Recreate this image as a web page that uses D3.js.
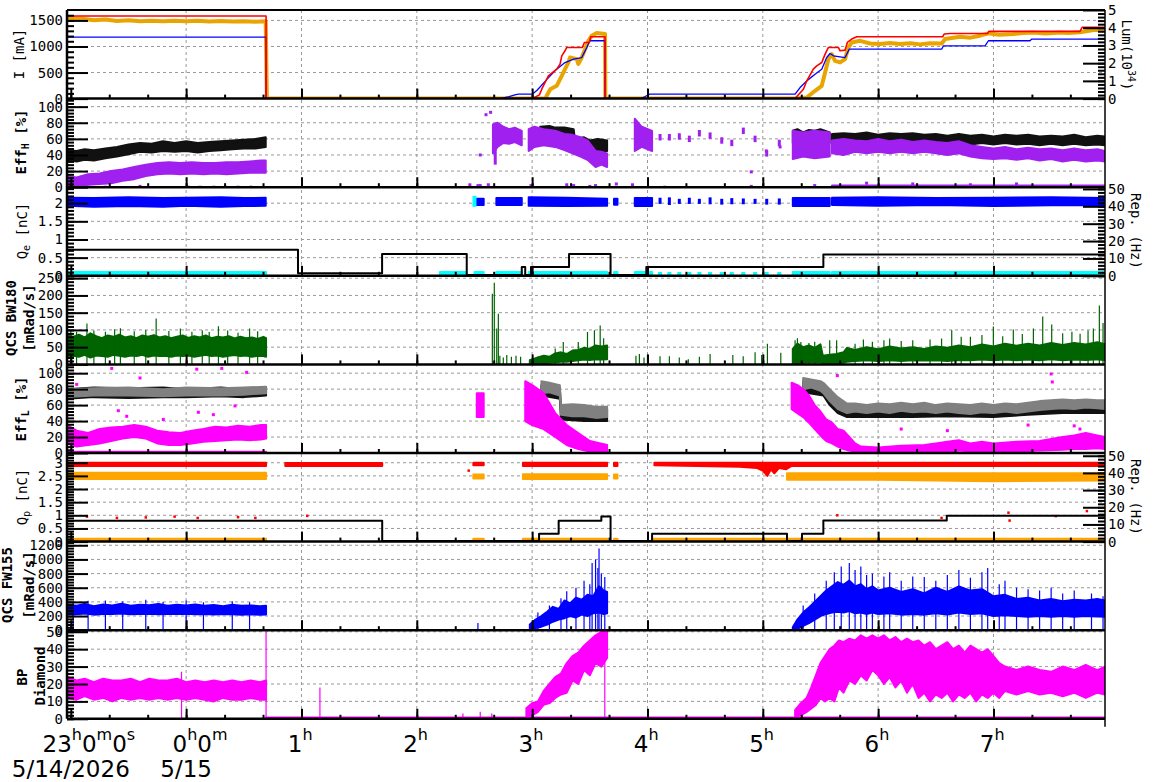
<!DOCTYPE html>
<html>
<head>
<meta charset="utf-8">
<script src="https://cdn.jsdelivr.net/npm/d3@7"></script>
<style>
  body { margin: 0; background: #fff; }
  svg { display: block; }
  .tick text { font-family: "DejaVu Sans Mono", monospace; font-size: 14px; fill: #000; }
</style>
</head>
<body>
<svg id="chart" width="1172" height="782"></svg>
<script>
// ---- time axis (hours relative to 0h of 5/15) ----
const timeDomain = [-1.033, 7.967];
const hourTicks = [-1, 0, 1, 2, 3, 4, 5, 6, 7];
const hourLabels = ["23h0m0s", "0h0m", "1h", "2h", "3h", "4h", "5h", "6h", "7h"];
const dateTicks = [-1, 0];
const dateLabels = ["5/14/2026", "5/15"];

// ---- y tick values ----
const currentTicks = [0, 500, 1000, 1500];
const lumTicks = [0, 1, 2, 3, 4, 5];
const effTicks = [0, 20, 40, 60, 80, 100];
const chargeTicksE = [0, 0.5, 1, 1.5, 2];
const chargeTicksP = [0, 0.5, 1, 1.5, 2, 2.5, 3];
const repTicks = [0, 10, 20, 30, 40, 50];
const bw180Ticks = [0, 50, 100, 150, 200, 250];
const fw155Ticks = [0, 200, 400, 600, 800, 1000, 1200];
const bpTicks = [0, 10, 20, 30, 40, 50];

// ---- panel 1: beam currents [mA] and luminosity [1e34] ----
const herCurrent = [[-1.033,1585],[0.693,1585],[0.693,0],[3.0,0],[3.063,71],[3.083,180],[3.141,437],[3.213,565],[3.242,662],[3.257,821],[3.285,917],[3.3,981],[3.435,981],[3.453,1077],[3.496,1077],[3.508,1186],[3.632,1186],[3.632,0],[5.279,0],[5.352,180],[5.381,340],[5.438,565],[5.468,629],[5.511,692],[5.54,854],[5.569,981],[5.655,981],[5.67,917],[5.713,930],[5.733,1077],[5.771,1142],[5.815,1186],[6.56,1186],[6.572,1238],[6.624,1250],[6.95,1250],[6.96,1290],[7.75,1290],[7.77,1370],[7.967,1370]];
const lerCurrent = [[-1.033,1180],[0.693,1180],[0.693,0],[2.72,0],[2.75,15],[2.8,40],[2.85,71],[2.88,85],[3.0,85],[3.043,161],[3.13,373],[3.213,565],[3.285,692],[3.36,758],[3.43,788],[3.445,854],[3.474,981],[3.5,1110],[3.632,1110],[3.632,0],[3.94,0],[3.98,40],[4.02,85],[5.28,85],[5.323,212],[5.381,340],[5.453,469],[5.511,565],[5.554,788],[5.583,865],[5.612,821],[5.713,788],[5.75,950],[6.552,950],[6.566,1013],[6.927,1013],[6.956,1110],[7.317,1110],[7.332,1142],[7.967,1142]];
const luminosity = [[-1.033,4.55],[-0.9,4.5],[-0.8,4.42],[-0.7,4.46],[-0.6,4.38],[-0.5,4.42],[-0.4,4.36],[-0.3,4.4],[-0.2,4.37],[-0.1,4.4],[0,4.36],[0.1,4.39],[0.2,4.35],[0.3,4.38],[0.4,4.35],[0.5,4.37],[0.6,4.34],[0.69,4.36],[0.70,0],[3.113,0],[3.157,0.53],[3.213,0.72],[3.257,1.28],[3.285,1.66],[3.314,2.04],[3.329,2.32],[3.387,2.23],[3.4,1.95],[3.43,2.32],[3.459,2.79],[3.488,3.26],[3.517,3.55],[3.56,3.7],[3.632,3.64],[3.635,0],[5.279,0],[5.381,0.06],[5.453,0.44],[5.511,0.72],[5.54,1.47],[5.569,2.23],[5.598,2.51],[5.626,2.13],[5.67,2.04],[5.713,2.23],[5.742,2.88],[5.771,3.17],[5.843,3.26],[5.93,3.11],[6.017,3.08],[6.1,3.14],[6.19,3.08],[6.28,3.12],[6.363,3.06],[6.45,3.12],[6.552,3.11],[6.58,3.36],[6.71,3.49],[6.8,3.44],[6.883,3.55],[6.956,3.68],[7.05,3.6],[7.172,3.64],[7.25,3.7],[7.346,3.73],[7.45,3.68],[7.577,3.73],[7.65,3.7],[7.751,3.74],[7.866,3.87],[7.967,3.87]];

// ---- panel 2: Eff_H [%] bands [t, low, high] ----
const effHBlack = [
  [[-1.033,34,46],[-0.95,32,45],[-0.88,34,47],[-0.8,33,46],[-0.7,36,48],[-0.6,38,50],[-0.5,41,53],[-0.4,44,55],[-0.3,43,54],[-0.2,45,57],[-0.1,44,55],[0,45,57],[0.1,43,55],[0.2,45,56],[0.3,46,57],[0.4,47,58],[0.5,48,59],[0.6,48,60],[0.69,50,62]],
  [[3.07,66,75],[3.15,65,76],[3.2,66,74],[3.28,64,74],[3.36,64,72],[3.37,50,60],[3.45,48,62],[3.5,46,58],[3.57,44,60],[3.65,45,58]],
  [[5.26,55,70],[5.3,58,72],[5.35,54,68],[5.4,57,71],[5.45,55,70],[5.5,58,72],[5.58,55,68]],
  [[5.6,55,66],[5.7,57,67],[5.8,55,66],[5.9,57,68],[6.0,55,65],[6.1,57,67],[6.2,55,66],[6.3,56,67],[6.4,54,65],[6.5,56,66],[6.6,54,64],[6.7,55,66],[6.8,53,64],[6.9,55,65],[7.0,53,63],[7.1,55,65],[7.2,53,64],[7.3,54,65],[7.4,52,63],[7.5,54,64],[7.6,52,63],[7.7,54,65],[7.8,52,62],[7.9,53,64],[7.967,52,63]]
];
const effHPurple = [
  [[-1.033,2,14],[-0.95,1,12],[-0.85,3,16],[-0.75,4,17],[-0.65,5,20],[-0.55,8,22],[-0.45,10,25],[-0.35,14,28],[-0.25,16,30],[-0.15,17,31],[-0.05,16,30],[0.05,17,31],[0.15,16,30],[0.25,17,30],[0.35,16,31],[0.45,17,31],[0.55,18,32],[0.65,18,33],[0.69,18,33]],
  [[2.66,42,78],[2.7,50,80],[2.75,55,75],[2.8,54,72],[2.85,56,74],[2.91,52,70]],
  [[2.97,45,72],[3.02,50,75],[3.1,52,72],[3.2,50,70],[3.28,46,66],[3.35,42,65],[3.42,38,62],[3.48,34,58],[3.55,25,45],[3.6,28,44],[3.65,25,42]],
  [[3.89,45,85],[3.95,50,75],[4.04,45,70]],
  [[5.26,35,70],[5.35,38,68],[5.45,36,70],[5.58,38,68]],
  [[5.6,42,58],[5.7,40,60],[5.8,44,58],[5.9,42,57],[6.0,44,60],[6.1,42,57],[6.2,44,59],[6.3,42,56],[6.4,44,58],[6.5,42,56],[6.6,40,55],[6.7,42,57],[6.8,38,52],[6.9,36,50],[7.0,35,48],[7.1,36,50],[7.2,34,47],[7.3,36,49],[7.4,33,47],[7.5,35,48],[7.6,32,46],[7.7,34,48],[7.8,32,46],[7.9,33,47],[7.967,32,45]],
  [[5.6,0,2],[7.967,0,2]]
];
const effHPurpleDashes = [[2.68,28,50],[4.109,58,66],[4.19,58,66],[4.276,59,67],[4.363,56,64],[4.45,63,71],[4.543,60,68],[4.644,54,62],[4.731,51,59],[4.831,66,74],[4.933,56,64],[5.034,38,46],[5.143,51,59]];
const effHPurpleDots = [[-0.85,0],[-0.7,0],[-0.4,1],[0.02,0],[0.12,0],[0.24,0],[0.34,0],[0.45,0],[0.56,0],[2.46,3],[2.53,2],[2.55,2],[2.62,3],[2.99,2],[3.3,3],[3.36,2],[3.5,1],[3.55,2],[3.73,4],[3.87,3],[4.15,0],[4.9,1],[5.45,2],[2.6,90],[2.64,93],[2.55,40],[5.03,45],[5.15,50],[4.9,19],[5.9,5],[6.3,4],[6.8,3],[7.2,4]];

// ---- panel 3: Q_e [nC] and repetition [Hz] ----
const qeBlue = [
  [[-1.033,1.93,2.15],[-0.8,1.9,2.14],[-0.5,1.92,2.16],[-0.2,1.9,2.14],[0,1.93,2.15],[0.3,1.9,2.16],[0.5,1.92,2.14],[0.69,1.93,2.15]],
  [[2.52,1.95,2.12],[2.58,1.95,2.12]],
  [[2.69,1.95,2.14],[2.91,1.95,2.14]],
  [[2.97,1.93,2.16],[3.3,1.92,2.15],[3.65,1.93,2.12]],
  [[3.71,1.96,2.12],[3.74,1.96,2.12]],
  [[3.89,1.92,2.14],[4.04,1.92,2.14]],
  [[5.26,1.92,2.14],[5.58,1.92,2.14]],
  [[5.6,1.95,2.15],[6.0,1.93,2.16],[6.5,1.95,2.14],[7.0,1.92,2.15],[7.5,1.94,2.16],[7.967,1.94,2.14]]
];
const qeBlueDashes = [[4.109,1.98,2.15],[4.19,1.95,2.16],[4.276,1.98,2.12],[4.363,1.98,2.15],[4.45,1.98,2.12],[4.543,1.97,2.16],[4.644,1.96,2.12],[4.731,1.97,2.14],[4.831,1.97,2.13],[4.933,1.98,2.12],[5.034,1.96,2.12],[5.143,1.96,2.13]];
const qeCyanBlock = [[2.5,1.9,2.2]];
const repCyan = [
  [[-1.033,0.2,2.2],[0.693,0.2,2.2]],[[2.2,0.2,2.2],[2.43,0.2,2.2]],[[2.5,0.2,2.2],[2.58,0.2,2.2]],[[2.69,0.2,2.2],[2.91,0.2,2.2]],
  [[2.97,0.2,2.2],[3.65,0.2,2.2]],[[3.71,0.2,2.2],[3.74,0.2,2.2]],[[3.89,0.2,2.2],[4.04,0.2,2.2]],
  [[5.26,0.2,2.2],[5.58,0.2,2.2]],[[5.6,0.2,2.2],[7.967,0.2,2.2]]
];
const repCyanDashes = [[4.109,0.2,2.2],[4.19,0.2,2.2],[4.276,0.2,2.2],[4.363,0.2,2.2],[4.45,0.2,2.2],[4.543,0.2,2.2],[4.644,0.2,2.2],[4.731,0.2,2.2],[4.831,0.2,2.2],[4.933,0.2,2.2],[5.034,0.2,2.2],[5.143,0.2,2.2]];
const repE = [[-1.033,15],[0.97,1.5],[1.699,12.5],[2.433,0.5],[2.91,5],[2.94,0.5],[2.99,5],[3.32,12.5],[3.68,0.5],[3.99,5],[5.525,12.2],[7.967,12.2]];

// ---- panel 4: QCS BW180 [mRad/s] ----
const bw180Band = [
  [[-1.033,20,88],[-0.98,25,80],[-0.93,22,86],[-0.88,28,78],[-0.83,20,90],[-0.78,26,82],[-0.73,24,76],[-0.68,22,84],[-0.63,28,80],[-0.58,25,86],[-0.53,22,78],[-0.48,26,82],[-0.43,24,76],[-0.38,28,84],[-0.33,22,80],[-0.28,26,85],[-0.23,24,78],[-0.18,25,82],[-0.13,22,76],[-0.08,26,80],[-0.03,24,84],[0.02,26,77],[0.07,22,82],[0.12,25,78],[0.17,28,84],[0.22,24,76],[0.27,26,80],[0.32,22,78],[0.37,25,82],[0.42,27,75],[0.47,24,80],[0.52,26,76],[0.57,22,78],[0.62,25,74],[0.67,24,80],[0.693,22,76]],
  [[2.98,0,12],[3.05,2,20],[3.1,3,25],[3.15,5,22],[3.2,6,32],[3.25,8,35],[3.3,8,30],[3.35,10,40],[3.4,12,42],[3.45,14,48],[3.5,13,45],[3.55,15,55],[3.6,14,52],[3.65,15,55]],
  [[5.26,3,45],[5.3,5,60],[5.35,4,50],[5.4,6,55],[5.45,5,48],[5.5,6,58],[5.52,3,25],[5.58,3,28],[5.64,3,30],[5.7,5,35],[5.73,8,48],[5.8,10,42],[5.9,12,50],[6.0,10,44],[6.1,12,52],[6.2,10,46],[6.3,12,50],[6.4,11,45],[6.5,12,52],[6.6,10,48],[6.7,13,55],[6.8,12,50],[6.9,14,58],[7.0,12,52],[7.1,14,60],[7.2,12,54],[7.3,14,60],[7.4,12,55],[7.5,15,62],[7.6,12,56],[7.7,14,62],[7.8,13,58],[7.9,15,64],[7.967,12,58]]
];
const bw180Spikes = [[-1.0,100],[-0.95,95],[-0.86,119],[-0.8,98],[-0.7,95],[-0.62,102],[-0.57,105],[-0.45,96],[-0.35,100],[-0.26,133],[-0.15,97],[-0.05,104],[0.05,95],[0.14,99],[0.2,94],[0.28,111],[0.36,98],[0.45,92],[0.55,104],[0.62,96],[2.655,205],[2.672,237],[2.693,104],[2.707,147],[2.72,25],[2.75,20],[2.78,27],[2.82,22],[2.86,25],[2.9,22],[3.05,22],[3.2,46],[3.27,65],[3.4,65],[3.48,94],[3.54,99],[3.59,113],[3.62,76],[3.9,25],[3.93,30],[3.97,20],[4.0,28],[4.109,24],[4.19,24],[4.276,20],[4.354,15],[4.45,22],[4.543,30],[4.74,27],[4.83,24],[4.933,35],[4.99,27],[5.04,60],[5.156,34],[5.28,70],[5.3,76],[5.33,65],[5.4,62],[5.45,66],[5.58,70],[5.64,70],[5.8,60],[5.872,72],[5.95,66],[6.05,70],[6.1,75],[6.2,68],[6.3,70],[6.45,72],[6.55,75],[6.638,99],[6.72,80],[6.8,80],[6.9,85],[6.999,110],[7.08,82],[7.172,101],[7.25,88],[7.346,104],[7.427,139],[7.505,116],[7.6,90],[7.68,95],[7.751,89],[7.82,98],[7.866,104],[7.918,171],[7.95,120]];

// ---- panel 5: Eff_L [%] ----
const effLBlack = [
  [[-1.033,68,80],[-0.8,70,82],[-0.5,69,81],[-0.2,70,82],[0,70,80],[0.3,71,82],[0.5,70,80],[0.693,72,82]],
  [[3.08,72,85],[3.24,68,82],[3.25,42,58],[3.45,40,55],[3.65,40,55]],
  [[5.35,76,90],[5.525,72,86],[5.58,60,75],[5.65,50,65],[5.73,45,57],[6.0,45,57],[6.3,45,56],[6.6,46,57],[7.0,45,56],[7.3,48,58],[7.6,50,60],[7.967,50,62]]
];
const effLGray = [
  [[-1.033,70,80],[-0.8,72,81],[-0.5,72,82],[-0.2,71,80],[0,72,82],[0.3,72,81],[0.5,73,82],[0.693,75,83]],
  [[3.08,75,90],[3.15,76,88],[3.24,72,85],[3.25,48,60],[3.35,46,61],[3.45,46,60],[3.55,44,58],[3.65,45,58]],
  [[5.35,80,94],[5.42,82,92],[5.5,78,90],[5.525,75,88],[5.58,65,80],[5.65,55,70],[5.73,50,62],[5.8,52,62],[5.9,50,60],[6.0,52,62],[6.1,50,61],[6.2,53,63],[6.3,51,61],[6.4,52,63],[6.5,50,60],[6.6,52,62],[6.7,50,61],[6.8,49,60],[6.9,51,62],[7.0,50,60],[7.1,52,62],[7.2,50,61],[7.3,52,63],[7.4,54,65],[7.5,55,66],[7.6,56,67],[7.7,55,66],[7.8,57,67],[7.9,56,66],[7.967,55,66]]
];
const effLMagenta = [
  [[-1.033,12,35],[-0.95,8,28],[-0.85,10,25],[-0.75,12,30],[-0.65,15,32],[-0.55,18,33],[-0.45,20,35],[-0.35,18,33],[-0.25,12,28],[-0.15,10,26],[-0.05,10,25],[0.05,12,28],[0.15,14,30],[0.25,15,33],[0.35,16,32],[0.45,17,34],[0.55,16,33],[0.65,17,35],[0.693,18,35]],
  [[-1.033,0,1.5],[0.693,0,1.5]],
  [[2.52,45,75],[2.58,45,75]],
  [[2.94,40,90],[3.0,35,85],[3.1,30,75],[3.2,20,50],[3.3,10,35],[3.4,5,25],[3.5,2,15],[3.65,1,10]],
  [[5.25,55,88],[5.3,50,85],[5.35,45,80],[5.4,38,72],[5.45,30,60],[5.5,22,52],[5.55,15,42],[5.6,12,38],[5.65,8,30],[5.7,5,28],[5.75,3,20],[5.8,2,12],[5.85,1,8],[6.0,1,7],[6.2,1,9],[6.4,2,10],[6.5,1,12],[6.6,2,14],[6.7,3,16],[6.8,2,12],[6.9,2,14],[7.0,2,12],[7.2,2,14],[7.4,3,15],[7.6,4,20],[7.7,5,22],[7.8,5,25],[7.9,6,22],[7.967,5,20]]
];
const effLMagentaDots = [[-0.645,106],[-0.4,94],[0.092,105],[0.309,106],[0.525,101],[-0.949,86],[0.424,59],[-0.588,53],[-0.515,46],[0.106,51],[-0.198,42],[0.236,48],[5.646,97],[7.5,99],[7.51,89],[6.2,30],[6.6,28],[7.3,35],[7.7,34],[7.75,30]];

// ---- panel 6: Q_p [nC] and repetition [Hz] ----
const qpRed = [
  [[-1.033,2.88,3.0],[0.693,2.88,3.0]],
  [[0.86,2.88,2.99],[1.70,2.88,2.99]],
  [[2.49,2.9,3.0],[2.58,2.9,3.0]],
  [[2.92,2.88,3.0],[3.65,2.88,3.0]],
  [[3.71,2.88,3.0],[3.74,2.88,3.0]],
  [[4.06,2.9,3.0],[4.8,2.85,3.0],[4.95,2.8,3.0],[5.0,2.7,3.0],[5.04,2.5,3.0],[5.07,2.75,3.0],[5.1,2.6,3.0],[5.14,2.8,3.0],[5.2,2.75,3.0],[5.25,2.88,3.0],[7.967,2.88,3.0]]
];
const qpOrange = [
  [[-1.033,2.38,2.62],[0.693,2.38,2.62]],
  [[2.49,2.4,2.55],[2.58,2.4,2.55]],
  [[2.92,2.38,2.56],[3.65,2.38,2.56]],
  [[3.71,2.4,2.55],[3.74,2.4,2.55]],
  [[5.21,2.35,2.6],[6.0,2.35,2.6],[7.0,2.3,2.6],[7.967,2.32,2.6]]
];
const qpRedDots = [[-0.86,0.95],[-0.6,0.9],[-0.35,0.92],[-0.1,0.95],[0.1,0.9],[0.45,0.93],[0.6,0.9],[1.05,0.98],[5.646,1.0],[6.55,0.9],[7.13,1.1],[7.14,0.8],[7.54,0.97],[7.81,1.16],[2.45,2.7]];
const repOrange = [
  [[-1.033,0.2,1.6],[0.693,0.2,1.6]],[[2.49,0.2,1.6],[2.58,0.2,1.6]],[[2.92,0.2,1.6],[3.65,0.2,1.6]],
  [[3.71,0.2,1.6],[3.74,0.2,1.6]],[[4.04,0.2,1.6],[7.967,0.2,1.6]]
];
const repP = [[-1.033,12.2],[1.70,0.3],[3.06,4.6],[3.23,12.2],[3.6,14.6],[3.68,0.3],[4.04,4.6],[5.21,0.3],[5.34,4.6],[5.525,12.3],[6.595,15],[7.967,15]];

// ---- panel 7: QCS FW155 [mRad/s] ----
const fw155Band = [
  [[-1.033,230,360],[-0.95,225,345],[-0.88,235,370],[-0.8,220,340],[-0.72,230,365],[-0.64,228,350],[-0.56,235,375],[-0.48,225,345],[-0.4,230,360],[-0.32,232,352],[-0.24,226,370],[-0.16,230,345],[-0.08,228,360],[0,232,350],[0.08,226,365],[0.16,230,345],[0.24,222,355],[0.32,228,340],[0.4,225,360],[0.48,220,345],[0.56,225,350],[0.64,218,340],[0.693,222,345]],
  [[2.98,10,80],[3.03,30,150],[3.08,50,200],[3.13,80,260],[3.18,120,330],[3.23,150,300],[3.28,170,420],[3.33,200,380],[3.38,180,460],[3.43,220,430],[3.48,200,500],[3.53,240,480],[3.58,250,620],[3.62,230,560],[3.65,240,540]],
  [[5.26,0,40],[5.3,20,150],[5.35,60,250],[5.4,100,320],[5.45,150,400],[5.5,200,480],[5.55,230,560],[5.6,250,620],[5.65,260,680],[5.7,250,640],[5.75,270,700],[5.8,240,620],[5.85,250,650],[5.9,230,580],[5.95,250,620],[6.0,230,560],[6.1,240,600],[6.2,220,540],[6.3,230,580],[6.4,220,520],[6.5,240,600],[6.6,220,540],[6.7,250,620],[6.8,230,560],[6.9,240,580],[7.0,200,480],[7.1,210,500],[7.2,200,440],[7.3,190,460],[7.4,200,420],[7.5,190,440],[7.6,200,410],[7.7,190,430],[7.8,200,420],[7.9,195,440],[7.967,190,420]]
];
const fw155Spikes = [[-0.98,400],[-0.85,415],[-0.7,420],[-0.55,405],[-0.35,430],[-0.2,400],[0,420],[0.15,395],[0.4,410],[0.55,395],[2.53,100],[3.05,250],[3.15,350],[3.25,450],[3.3,550],[3.38,600],[3.45,700],[3.5,650],[3.52,950],[3.55,1000],[3.57,880],[3.58,1156],[3.6,800],[3.63,750],[5.35,350],[5.45,520],[5.55,700],[5.62,820],[5.68,900],[5.75,950],[5.8,850],[5.85,900],[5.9,780],[5.95,800],[6.05,760],[6.1,820],[6.2,700],[6.3,760],[6.4,750],[6.5,700],[6.6,780],[6.7,850],[6.8,740],[6.9,820],[6.95,880],[7.05,650],[7.1,700],[7.2,600],[7.3,580],[7.4,560],[7.5,600],[7.6,520],[7.7,560],[7.85,520],[7.95,480]];

// ---- panel 8: BP Diamond ----
const bpBand = [
  [[-1.033,12,24],[-0.95,11,22],[-0.88,13,23],[-0.8,11,21],[-0.72,12,23],[-0.64,10,22],[-0.56,12,22],[-0.48,11,23],[-0.4,12,21],[-0.32,11,23],[-0.24,12,22],[-0.16,11,22],[-0.08,12,23],[0,11,21],[0.08,12,22],[0.16,11,21],[0.24,10,22],[0.32,12,21],[0.4,11,22],[0.48,11,21],[0.56,12,22],[0.64,11,21],[0.693,11,22]],
  [[0.693,0,0.8],[7.967,0,0.8]],
  [[2.95,1,6],[3.0,2,9],[3.05,4,10],[3.1,8,16],[3.15,9,20],[3.2,12,24],[3.25,14,26],[3.3,15,32],[3.35,22,36],[3.4,20,38],[3.45,28,42],[3.5,25,45],[3.55,32,48],[3.6,30,50],[3.65,35,50]],
  [[5.28,1,5],[5.33,2,9],[5.38,4,12],[5.42,6,18],[5.46,8,25],[5.5,12,32],[5.54,10,36],[5.58,12,40],[5.62,10,42],[5.66,18,45],[5.7,15,44],[5.75,22,46],[5.8,20,45],[5.85,25,48],[5.9,22,46],[5.95,28,48],[6.0,25,46],[6.05,20,48],[6.1,24,45],[6.15,18,47],[6.2,22,44],[6.25,15,46],[6.3,20,44],[6.35,12,45],[6.4,15,42],[6.45,10,44],[6.5,14,40],[6.55,12,42],[6.6,15,44],[6.65,10,40],[6.7,14,42],[6.75,12,38],[6.8,15,42],[6.85,10,40],[6.9,14,38],[6.95,12,40],[7.0,15,36],[7.05,12,32],[7.1,16,30],[7.2,14,28],[7.3,16,30],[7.4,14,28],[7.5,15,27],[7.6,13,30],[7.7,15,28],[7.8,12,31],[7.9,15,28],[7.967,14,30]]
];
const bpSpikes = [[-0.04,27],[0.693,50],[1.16,18],[2.4,3],[2.55,4],[2.65,3],[3.63,50]];

// ================= drawing =================
const svg = d3.select("#chart");
const L = 67, R = 1105, TOP = 10, PH = 88.6, NP = 8;
const BOTTOM = TOP + NP * PH;
const x = d3.scaleLinear().domain(timeDomain).range([L, R]);
const defs = svg.append("defs");
const gridLayer = svg.append("g");
const dataLayer = svg.append("g");
const axisLayer = svg.append("g");

function makePanel(i, max, ticks, minorStep, right) {
  const top = TOP + i * PH, bot = top + PH;
  const y = d3.scaleLinear().domain([0, max]).range([bot, top]);
  defs.append("clipPath").attr("id", "clip" + i)
    .append("rect").attr("x", L).attr("y", top).attr("width", R - L).attr("height", PH);
  const data = dataLayer.append("g").attr("clip-path", `url(#clip${i})`);
  // horizontal grid
  gridLayer.selectAll(null).data(ticks.filter(t => t > 0)).enter().append("line")
    .attr("x1", L).attr("x2", R).attr("y1", d => y(d)).attr("y2", d => y(d))
    .attr("stroke", "#999").attr("stroke-dasharray", "3,3");
  const fmt = d => String(+d.toFixed(2));
  const ax = axisLayer.append("g").attr("transform", `translate(${L},0)`);
  ax.call(d3.axisLeft(y).tickValues(d3.range(0, max, minorStep)).tickSize(-7).tickFormat(""));
  ax.append("g").call(d3.axisLeft(y).tickValues(ticks).tickSize(-21).tickPadding(4).tickFormat(fmt));
  ax.selectAll(".domain").remove();
  ax.selectAll(".tick line").attr("stroke", "#000").attr("stroke-width", 2);
  let yr = null;
  if (right) {
    yr = d3.scaleLinear().domain([0, right.max]).range([bot, top]);
    const ar = axisLayer.append("g").attr("transform", `translate(${R},0)`);
    ar.call(d3.axisRight(yr).tickValues(d3.range(0, right.max, right.minor)).tickSize(-7).tickFormat(""));
    ar.append("g").call(d3.axisRight(yr).tickValues(right.ticks).tickSize(-22).tickPadding(3).tickFormat(fmt));
    ar.selectAll(".domain").remove();
    ar.selectAll(".tick line").attr("stroke", "#000").attr("stroke-width", 2);
  }
  // time ticks on the bottom edge
  const tx = axisLayer.append("g").attr("transform", `translate(0,${bot})`);
  tx.call(d3.axisBottom(x).tickValues(d3.range(-1, 8, 1 / 3)).tickSize(-4).tickFormat(""));
  tx.append("g").call(d3.axisBottom(x).tickValues(hourTicks).tickSize(-10).tickFormat(""));
  tx.selectAll(".domain").remove();
  tx.selectAll(".tick line").attr("stroke", "#000").attr("stroke-width", 2);
  axisLayer.append("line").attr("x1", L).attr("x2", R).attr("y1", bot).attr("y2", bot)
    .attr("stroke", "#000").attr("stroke-width", 2.5);
  return { data, y, yr, top, bot };
}

// vertical grid
gridLayer.selectAll(null).data(hourTicks.filter(h => h >= 0)).enter().append("line")
  .attr("x1", d => x(d)).attr("x2", d => x(d)).attr("y1", TOP).attr("y2", BOTTOM)
  .attr("stroke", "#999").attr("stroke-dasharray", "3,3");

const P = [
  makePanel(0, 1700, currentTicks, 100, { max: 5, ticks: lumTicks, minor: 0.2 }),
  makePanel(1, 110, effTicks, 4),
  makePanel(2, 2.44, chargeTicksE, 0.1, { max: 51, ticks: repTicks, minor: 2 }),
  makePanel(3, 257, bw180Ticks, 10),
  makePanel(4, 111, effTicks, 4),
  makePanel(5, 3.37, chargeTicksP, 0.1, { max: 51.6, ticks: repTicks, minor: 2 }),
  makePanel(6, 1252, fw155Ticks, 40),
  makePanel(7, 50.9, bpTicks, 2)
];

function band(p, segs, color, yy) {
  const ys = yy || p.y;
  const area = d3.area().x(d => x(d[0])).y0(d => ys(d[1])).y1(d => ys(d[2]));
  p.data.selectAll(null).data(segs).enter().append("path")
    .attr("d", area).attr("fill", color).attr("stroke", color).attr("stroke-width", 2)
    .attr("stroke-linejoin", "round");
}
function line(p, pts, color, w, yy, curve) {
  const ys = yy || p.y;
  const ln = d3.line().x(d => x(d[0])).y(d => ys(d[1])).curve(curve || d3.curveLinear);
  p.data.append("path").attr("d", ln(pts)).attr("fill", "none")
    .attr("stroke", color).attr("stroke-width", w).attr("stroke-linejoin", "round");
}
function spikes(p, pts, color) {
  p.data.selectAll(null).data(pts).enter().append("line")
    .attr("x1", d => x(d[0])).attr("x2", d => x(d[0]))
    .attr("y1", p.y(0)).attr("y2", d => p.y(d[1]))
    .attr("stroke", color).attr("stroke-width", 1.2);
}
function dashes(p, pts, color, yy, w) {
  const ys = yy || p.y;
  p.data.selectAll(null).data(pts).enter().append("rect")
    .attr("x", d => x(d[0]) - (w || 3) / 2).attr("width", w || 3)
    .attr("y", d => ys(d[2])).attr("height", d => ys(d[1]) - ys(d[2]))
    .attr("fill", color);
}
function dots(p, pts, color, s, yy) {
  const ys = yy || p.y;
  p.data.selectAll(null).data(pts).enter().append("rect")
    .attr("x", d => x(d[0]) - s / 2).attr("y", d => ys(d[1]) - s / 2)
    .attr("width", s).attr("height", s).attr("fill", color);
}

// panel 1
line(P[0], luminosity, "#eaa400", 4, P[0].yr);
line(P[0], lerCurrent, "#0000ff", 1.3);
line(P[0], herCurrent, "#ff0000", 1.6);
// panel 2
band(P[1], effHBlack, "#111");
band(P[1], effHPurple, "#a020f0");
dashes(P[1], effHPurpleDashes, "#a020f0");
dots(P[1], effHPurpleDots, "#a020f0", 3);
// panel 3
band(P[2], qeBlue, "#0000ff");
dashes(P[2], qeBlueDashes, "#0000ff");
dashes(P[2], qeCyanBlock, "#00ffff", null, 4);
band(P[2], repCyan, "#00ffff", P[2].yr);
dashes(P[2], repCyanDashes, "#00ffff", P[2].yr, 4);
line(P[2], repE, "#000", 2, P[2].yr, d3.curveStepAfter);
// panel 4
band(P[3], bw180Band, "#006400");
spikes(P[3], bw180Spikes, "#006400");
// panel 5
band(P[4], effLBlack, "#111");
band(P[4], effLGray, "#808080");
band(P[4], effLMagenta, "#ff00ff");
dots(P[4], effLMagentaDots, "#ff00ff", 3);
// panel 6
band(P[5], qpRed, "#ff0000");
band(P[5], qpOrange, "#ffa500");
dots(P[5], qpRedDots, "#ff0000", 2.5);
band(P[5], repOrange, "#ffa500", P[5].yr);
line(P[5], repP, "#000", 2, P[5].yr, d3.curveStepAfter);
// panel 7
band(P[6], fw155Band, "#0000ff");
spikes(P[6], fw155Spikes, "#0000ff");
// panel 8
band(P[7], bpBand, "#ff00ff");
spikes(P[7], bpSpikes, "#ff00ff");

// frame
axisLayer.append("line").attr("x1", L).attr("x2", R).attr("y1", TOP).attr("y2", TOP).attr("stroke", "#000").attr("stroke-width", 2);
axisLayer.append("line").attr("x1", L).attr("x2", L).attr("y1", TOP).attr("y2", BOTTOM).attr("stroke", "#000").attr("stroke-width", 2.5);
axisLayer.append("line").attr("x1", R).attr("x2", R).attr("y1", TOP).attr("y2", BOTTOM + 8).attr("stroke", "#000").attr("stroke-width", 1.5);

// axis titles (rotated)
function vtitle(cx, cy, parts, rot, bold) {
  const t = svg.append("text")
    .attr("transform", `translate(${cx},${cy}) rotate(${rot})`)
    .attr("text-anchor", "middle").attr("dominant-baseline", "central")
    .attr("font-family", "DejaVu Sans Mono, monospace").attr("font-size", 14)
    .attr("font-weight", bold ? "bold" : "normal");
  parts.forEach(([s, kind]) => {
    const ts = t.append("tspan").text(s);
    if (kind === "sub") ts.attr("font-size", 10).attr("dy", 4);
    if (kind === "sup") ts.attr("font-size", 10).attr("dy", -5);
    if (kind === "back") ts.attr("dy", -4);
    if (kind === "down") ts.attr("dy", 5);
  });
}
vtitle(19, 54, [["I [mA]"]], -90);
vtitle(21, 142, [["Eff"], ["H", "sub"], [" [%]", "back"]], -90, true);
vtitle(22, 231, [["Q"], ["e", "sub"], [" [nC]", "back"]], -90);
vtitle(11, 318, [["QCS BW180"]], -90, true);
vtitle(29, 318, [["[mRad/s]"]], -90, true);
vtitle(21, 409, [["Eff"], ["L", "sub"], [" [%]", "back"]], -90, true);
vtitle(22, 497, [["Q"], ["p", "sub"], [" [nC]", "back"]], -90);
vtitle(7, 585, [["QCS FW155"]], -90, true);
vtitle(29, 585, [["[mRad/s]"]], -90, true);
vtitle(22, 677, [["BP"]], -90, true);
vtitle(40, 676, [["Diamond"]], -90, true);
vtitle(1127, 55, [["Lum(10"], ["34", "sup"], [")", "down"]], 90);
vtitle(1136, 231, [["Rep. (Hz)"]], 90);
vtitle(1136, 497, [["Rep. (Hz)"]], 90);

// bottom time labels: digits normal, unit letters raised
hourLabels.forEach((lab, i) => {
  const t = svg.append("text").attr("y", 752)
    .attr("font-family", "DejaVu Sans, sans-serif").attr("font-size", 23).attr("fill", "#000");
  const parts = lab.match(/\d+|[a-z]/g);
  let first = null, raised = false;
  parts.forEach(s => {
    const isUnit = /[a-z]/.test(s);
    const ts = t.append("tspan").text(s);
    if (isUnit) { ts.attr("font-size", 16).attr("dy", raised ? 0 : -12); raised = true; }
    else { if (raised) ts.attr("dy", 12); raised = false; }
    if (!first) first = ts;
  });
  const w = first.node().getComputedTextLength();
  t.attr("x", x(hourTicks[i]) + 1 - w);
});
svg.selectAll(null).data(dateLabels).enter().append("text")
  .attr("x", (d, i) => x(dateTicks[i])).attr("y", 777).attr("text-anchor", "middle")
  .attr("font-family", "DejaVu Sans, sans-serif").attr("font-size", 23).text(d => d);
</script>
</body>
</html>
